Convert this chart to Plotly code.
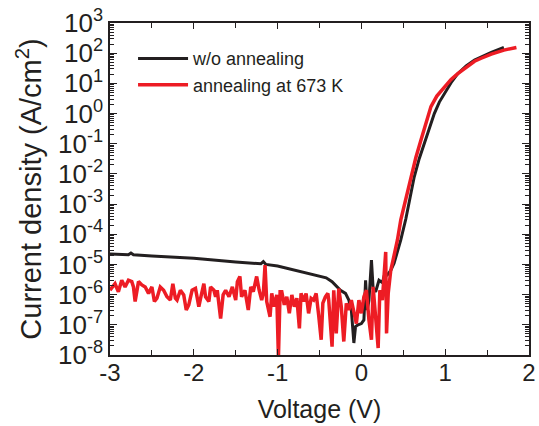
import plotly.graph_objects as go

# ---- data ----
v_black = [-3.00, -2.85, -2.78, -2.75, -2.72, -2.50, -2.00, -1.50, -1.20, -1.17, -1.14,
           -1.00, -0.75, -0.50, -0.42, -0.35, -0.25, -0.19, -0.15, -0.12, -0.09, -0.07,
           -0.04, 0.00, 0.03, 0.05, 0.07, 0.09, 0.12, 0.14, 0.17, 0.21, 0.25, 0.28, 0.31,
           0.35, 0.39, 0.47, 0.53, 0.58, 0.63, 0.69, 0.75, 0.81, 0.87, 0.93, 0.99, 1.07,
           1.15, 1.25, 1.35, 1.43, 1.55, 1.70]
j_black = [2.2e-5, 2.15e-5, 2.1e-5, 2.4e-5, 2.1e-5, 1.9e-5, 1.6e-5, 1.2e-5, 1.05e-5, 1.25e-5, 1.0e-5,
           8.9e-6, 6.0e-6, 4.2e-6, 3.6e-6, 2.7e-6, 1.4e-6, 1.1e-6, 6.6e-7, 3.1e-7, 2.5e-8, 8.7e-8,
           1.0e-7, 1.1e-7, 1.45e-7, 3.0e-6, 3.1e-7, 6.3e-7, 1.4e-5, 1.6e-6, 1.25e-6, 3.0e-6, 2.5e-6,
           5.0e-6, 4.5e-6, 6.3e-6, 1.1e-5, 6.5e-5, 3.2e-4, 1.6e-3, 7.9e-3, 3.2e-2, 0.10, 0.35, 1.0,
           2.4, 4.7, 10.5, 21, 38, 59, 76, 107, 155]

v_red = [-3.00, -2.94, -2.90, -2.86, -2.82, -2.78, -2.74, -2.72, -2.70, -2.66, -2.62, -2.58,
         -2.54, -2.50, -2.47, -2.44, -2.40, -2.36, -2.32, -2.28, -2.25, -2.22, -2.20, -2.16,
         -2.12, -2.09, -2.06, -2.02, -1.98, -1.94, -1.91, -1.88, -1.86, -1.82, -1.80, -1.76,
         -1.74, -1.72, -1.68, -1.65, -1.62, -1.58, -1.54, -1.50, -1.48, -1.45, -1.43, -1.39,
         -1.35, -1.32, -1.29, -1.25, -1.22, -1.19, -1.17, -1.15, -1.13, -1.09, -1.07, -1.04,
         -1.01, -0.99, -0.97, -0.95, -0.92, -0.89, -0.86, -0.83, -0.80, -0.77, -0.74, -0.72,
         -0.69, -0.66, -0.63, -0.60, -0.57, -0.54, -0.51, -0.48, -0.46, -0.43, -0.40, -0.39,
         -0.35, -0.33, -0.30, -0.27, -0.24, -0.21, -0.18, -0.15, -0.12, -0.09, -0.06, -0.03,
         0.00, 0.03, 0.06, 0.09, 0.12, 0.14, 0.17, 0.20, 0.22, 0.25, 0.29, 0.30, 0.32, 0.35,
         0.39, 0.43, 0.47, 0.53, 0.59, 0.65, 0.71, 0.77, 0.83, 0.90, 0.99, 1.07, 1.15, 1.25,
         1.35, 1.43, 1.55, 1.70, 1.85]
j_red = [1.4e-6, 2.3e-6, 1.25e-6, 3.0e-6, 1.8e-6, 3.0e-6, 2.7e-6, 1.8e-6, 5.9e-7, 2.7e-6, 2.1e-6, 1.8e-6,
         1.1e-6, 1.8e-6, 5.9e-7, 7.6e-7, 1.8e-6, 1.4e-6, 8.5e-7, 6.6e-7, 2.3e-6, 7.6e-7, 6.6e-7, 1.4e-6,
         9.8e-7, 3.1e-7, 4.6e-7, 1.4e-6, 1.6e-6, 4.0e-7, 9.8e-7, 2.3e-6, 8.5e-7, 5.9e-7, 1.8e-6, 1.4e-6,
         8.5e-7, 1.4e-6, 1.6e-7, 9.8e-7, 1.4e-6, 8.5e-7, 1.8e-6, 6.6e-7, 2.7e-6, 4.0e-6, 8.5e-7, 1.4e-6,
         3.1e-7, 1.8e-6, 1.25e-6, 4.0e-6, 1.4e-6, 6.6e-7, 1.1e-6, 9.5e-6, 5.9e-7, 1.85e-7, 1.1e-6, 4.0e-7,
         9.8e-7, 8.0e-9, 1.25e-6, 1.25e-6, 4.6e-7, 8.5e-7, 2.4e-7, 9.8e-7, 4.0e-7, 7.6e-7, 7.6e-8, 1.1e-6,
         5.9e-7, 1.1e-6, 2.4e-7, 7.6e-7, 6.6e-7, 1.1e-6, 2.1e-7, 3.2e-8, 5.2e-7, 8.5e-7, 1.1e-6, 6.6e-7,
         1.9e-8, 1.4e-6, 5.2e-8, 1.6e-6, 4.0e-7, 2.8e-8, 5.1e-7, 3.1e-7, 6.6e-7, 2.4e-7, 1.1e-7, 6.6e-7,
         2.4e-7, 8.5e-7, 1.4e-6, 1.45e-7, 3.2e-8, 1.8e-6, 1.45e-7, 1.7e-8, 1.4e-6, 6.6e-7, 2.6e-5, 5.2e-8, 1.1e-6, 6.3e-6,
         2.0e-5, 6.5e-5, 3.0e-4, 1.6e-3, 8.1e-3, 3.5e-2, 0.13, 0.5, 1.7, 3.8, 7.8, 13.5, 21, 35,
         54, 68, 93, 126, 155]

series_names = ["w/o annealing", "annealing at 673 K"]
x_tick_vals = [-3, -2, -1, 0, 1, 2]
y_decades = list(range(-8, 4))
y_tick_vals = [10.0 ** d for d in y_decades]
y_tick_text = ["10<sup>%d</sup>" % d for d in y_decades]
y_minor_vals = [k * 10.0 ** d for d in range(-8, 3) for k in range(2, 10)]

BLACK = "#231f20"
RED = "#ed1c24"
FONT = "Arial, Liberation Sans, sans-serif"

fig = go.Figure()
fig.add_trace(go.Scatter(x=v_black, y=j_black, mode="lines", name=series_names[0],
                         line=dict(color=BLACK, width=3)))
fig.add_trace(go.Scatter(x=v_red, y=j_red, mode="lines", name=series_names[1],
                         line=dict(color=RED, width=3.5)))

axis_common = dict(showline=True, linecolor=BLACK, linewidth=1.5, mirror="allticks",
                   ticks="inside", tickcolor=BLACK, showgrid=False, zeroline=False,
                   automargin=False, ticklabeloverflow="allow")

fig.update_xaxes(range=[-3, 2], tickvals=x_tick_vals, ticktext=[str(v) for v in x_tick_vals],
                 ticklen=6, tickwidth=1, ticklabelstandoff=-5,
                 tickfont=dict(family=FONT, size=24, color=BLACK),
                 minor=dict(dtick=0.5, tick0=0, ticks="inside", ticklen=5, tickcolor=BLACK),
                 title=dict(text="Voltage (V)", font=dict(family=FONT, size=25, color=BLACK),
                            standoff=16),
                 **axis_common)
fig.update_yaxes(type="log", range=[-8, 3], tickvals=y_tick_vals, ticktext=y_tick_text,
                 ticklen=7, tickwidth=1,
                 tickfont=dict(family=FONT, size=26, color=BLACK),
                 minor=dict(tickvals=y_minor_vals, ticks="inside", ticklen=4, tickcolor=BLACK),
                 title=dict(text="Current density (A/cm<sup>2</sup>)",
                            font=dict(family=FONT, size=29, color=BLACK), standoff=8),
                 **axis_common)

fig.update_layout(
    width=539, height=426,
    margin=dict(l=110, r=10, t=23, b=71),
    plot_bgcolor="white", paper_bgcolor="white",
    font=dict(family=FONT, color=BLACK),
    legend=dict(x=0.055, y=0.948, xanchor="left", yanchor="top",
                bgcolor="rgba(0,0,0,0)", font=dict(family=FONT, size=18, color=BLACK),
                itemwidth=50),
    showlegend=True,
)

fig.write_html("out.html", config={"displayModeBar": False},
               post_script="document.body.style.margin='0px';document.body.style.overflow='hidden';")
